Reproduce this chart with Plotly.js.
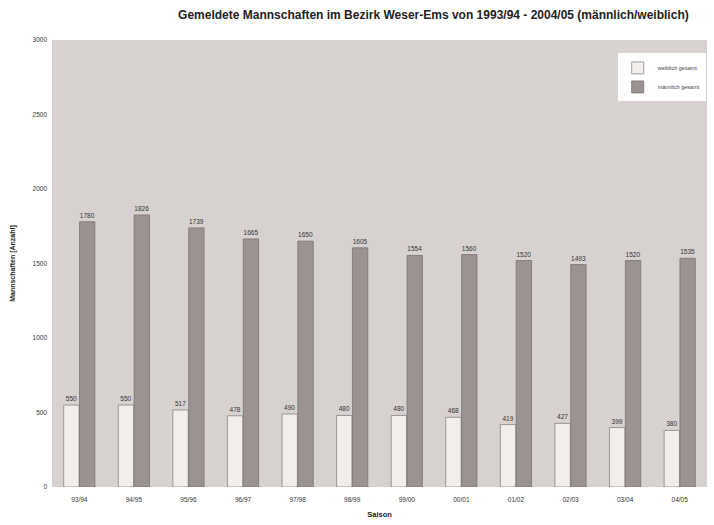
<!DOCTYPE html>
<html>
<head>
<meta charset="utf-8">
<script src="https://cdn.plot.ly/plotly-3.0.1.min.js"></script>
<style>html,body{margin:0;padding:0;background:#fff;}#chart{width:714px;height:525px;}</style>
</head>
<body>
<div id="chart"></div>
<script>
var seasons = ["93/94","94/95","95/96","96/97","97/98","98/99","99/00","00/01","01/02","02/03","03/04","04/05"];
var weiblich = [550, 550, 517, 478, 490, 480, 480, 468, 419, 427, 399, 380];
var maennlich = [1780, 1826, 1739, 1665, 1650, 1605, 1554, 1560, 1520, 1493, 1520, 1535];
var yTicks = [0, 500, 1000, 1500, 2000, 2500, 3000];

var traces = [
  {type: "bar", name: "weiblich gesamt", x: seasons, y: weiblich,
   text: weiblich.map(String), textposition: "outside", cliponaxis: false,
   textfont: {size: 6.5, color: "#333", family: "Liberation Sans, Arial, sans-serif"},
   marker: {color: "#f1eeec", line: {color: "#8a8484", width: 0.8}}},
  {type: "bar", name: "männlich gesamt", x: seasons, y: maennlich,
   text: maennlich.map(String), textposition: "outside", cliponaxis: false,
   textfont: {size: 6.5, color: "#333", family: "Liberation Sans, Arial, sans-serif"},
   marker: {color: "#9a9391", line: {color: "#7a7474", width: 0.8}}}
];

var layout = {
  width: 714, height: 525,
  margin: {l: 52, r: 7, t: 40, b: 38},
  paper_bgcolor: "#ffffff",
  plot_bgcolor: "#d7d1d0",
  font: {family: "Liberation Sans, Arial, sans-serif", size: 7, color: "#333"},
  title: {text: "<b>Gemeldete Mannschaften im Bezirk Weser-Ems von 1993/94 - 2004/05 (männlich/weiblich)</b>",
          font: {size: 12, color: "#222"}, x: 0.607, xanchor: "center", y: 0.972, yanchor: "middle"},
  barmode: "group",
  bargap: 0.42,
  bargroupgap: 0.03,
  showlegend: true,
  legend: {x: 0.998, y: 0.97, xanchor: "right", yanchor: "top", bgcolor: "#ffffff",
           font: {size: 5.5, color: "#444"}, itemwidth: 30, tracegroupgap: 0},
  xaxis: {title: {text: "<b>Saison</b>", font: {size: 7.5, color: "#222"}, standoff: 10},
          tickfont: {size: 6.5}, ticklabelstandoff: 7, showgrid: false, showline: false, ticks: "", zeroline: false},
  yaxis: {title: {text: "<b>Mannschaften [Anzahl]</b>", font: {size: 7, color: "#222"}, standoff: 16},
          range: [0, 3000], tickvals: yTicks, ticktext: yTicks.map(String),
          tickfont: {size: 6.5}, ticklabelstandoff: 4, showgrid: false, zeroline: false, showline: false, ticks: ""}
};

Plotly.newPlot("chart", traces, layout, {displayModeBar: false, staticPlot: true});
</script>
</body>
</html>
